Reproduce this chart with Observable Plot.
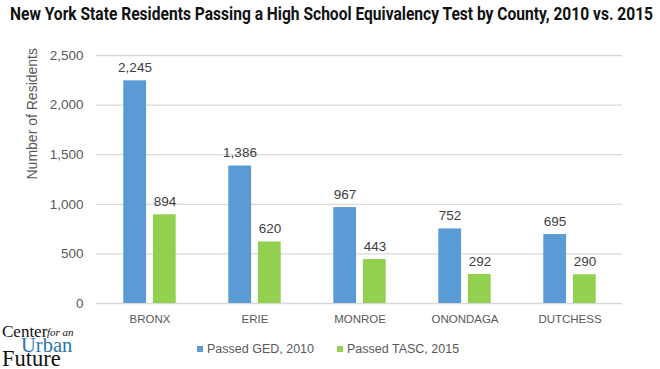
<!DOCTYPE html>
<html>
<head>
<meta charset="utf-8">
<script src="https://cdn.jsdelivr.net/npm/d3@7"></script>
<script src="https://cdn.jsdelivr.net/npm/@observablehq/plot@0.6"></script>
<style>
  html, body { margin: 0; padding: 0; background: #fff; }
  #wrap { position: relative; width: 660px; height: 369px; overflow: hidden; background: #fff; font-family: "Liberation Sans", Arial, sans-serif; }
  #title { position: absolute; left: 10px; top: 5px; font-family: Roboto, "Liberation Sans", sans-serif; font-size: 18px; line-height: 1; font-weight: bold; color: #111; white-space: nowrap; transform-origin: 0 0; }
  #chart { position: absolute; left: 0; top: 30px; }
  #legend { position: absolute; top: 341px; left: 0; width: 660px; height: 16px; font-size: 12.5px; line-height: 16px; color: #595959; white-space: nowrap; }
  #legend .item { position: absolute; top: 0; }
  #legend .sw { display: inline-block; width: 6px; height: 6px; margin-right: 4px; vertical-align: 1px; }
  #logo { position: absolute; left: 2px; top: 320px; width: 90px; height: 49px; font-family: "Liberation Serif", "DejaVu Serif", serif; line-height: 0.675; }
  #logo span { position: absolute; white-space: nowrap; }
  #logo .c { left: 0; top: 6px; font-size: 17px; color: #111; }
  #logo .f { left: 45px; top: 9px; font-size: 11px; font-style: italic; color: #111; }
  #logo .u { left: 19px; top: 19px; font-size: 20.5px; color: #2a76a8; }
  #logo .fu { left: 0; top: 31px; font-size: 22.5px; color: #111; }
</style>
</head>
<body>
<div id="wrap">
  <div id="title">New York State Residents Passing a High School Equivalency Test by County, 2010 vs. 2015</div>
  <div id="chart"></div>
  <div id="legend"></div>
  <div id="logo"><span class="c">Center</span><span class="f">for an</span><span class="u">Urban</span><span class="fu">Future</span></div>
</div>
<script>
const counties = ["BRONX", "ERIE", "MONROE", "ONONDAGA", "DUTCHESS"];
const series = ["Passed GED, 2010", "Passed TASC, 2015"];
const ged2010 = [2245, 1386, 967, 752, 695];
const tasc2015 = [894, 620, 443, 292, 290];
const yTicks = [0, 500, 1000, 1500, 2000, 2500];
const yLabel = "Number of Residents";
const colors = ["#5b9bd5", "#92d050"];

const ged = counties.map((c, i) => ({county: c, series: series[0], value: ged2010[i]}));
const tasc = counties.map((c, i) => ({county: c, series: series[1], value: tasc2015[i]}));
const fmt = d3.format(",");

// band step = (660-96-38)/5 ; bars 23px wide, 7px apart, centred in each band
const outer = 26.3, barW = 23, gap = 7;
const step = (660 - 96 - 38) / counties.length;
const innerFar = step - outer - barW;

const chart = Plot.plot({
  width: 660,
  height: 310,
  marginLeft: 96,
  marginRight: 38,
  marginTop: 25,
  marginBottom: 37,
  style: {fontFamily: "'Liberation Sans', Arial, sans-serif", fontSize: "13px", background: "#fff"},
  x: {domain: counties, padding: 0, label: null},
  y: {domain: [0, 2500], label: null},
  color: {domain: series, range: colors},
  marks: [
    Plot.ruleY(yTicks, {stroke: "#d9d9d9", strokeWidth: 1.3}),
    Plot.axisY(yTicks, {tickSize: 0, tickPadding: 13, tickFormat: fmt, fontSize: 13.5, fill: "#595959", label: null}),
    Plot.text([yLabel], {frameAnchor: "left", rotate: -90, dx: -64, fontSize: 14, fill: "#595959"}),
    Plot.axisX({tickSize: 0, tickPadding: 11, fontSize: 11.5, fill: "#595959", label: null}),
    Plot.barY(ged, {x: "county", y: "value", fill: "series", insetLeft: outer, insetRight: innerFar}),
    Plot.barY(tasc, {x: "county", y: "value", fill: "series", insetLeft: innerFar, insetRight: outer}),
    Plot.text(ged, {x: "county", y: "value", text: d => fmt(d.value), dx: -(barW + gap) / 2, dy: -13, fontSize: 13.5, fill: "#404040"}),
    Plot.text(tasc, {x: "county", y: "value", text: d => fmt(d.value), dx: (barW + gap) / 2, dy: -13, fontSize: 13.5, fill: "#404040"})
  ]
});
document.getElementById("chart").appendChild(chart);

const leg = document.getElementById("legend");
const legLeft = [197, 337];
series.forEach((s, i) => {
  const item = document.createElement("span");
  item.className = "item";
  item.style.left = legLeft[i] + "px";
  item.innerHTML = `<span class="sw" style="background:${colors[i]}"></span>${s}`;
  leg.appendChild(item);
});

const t = document.getElementById("title");
const w = t.getBoundingClientRect().width;
t.style.transform = `scaleX(${643 / w})`;
</script>
</body>
</html>
